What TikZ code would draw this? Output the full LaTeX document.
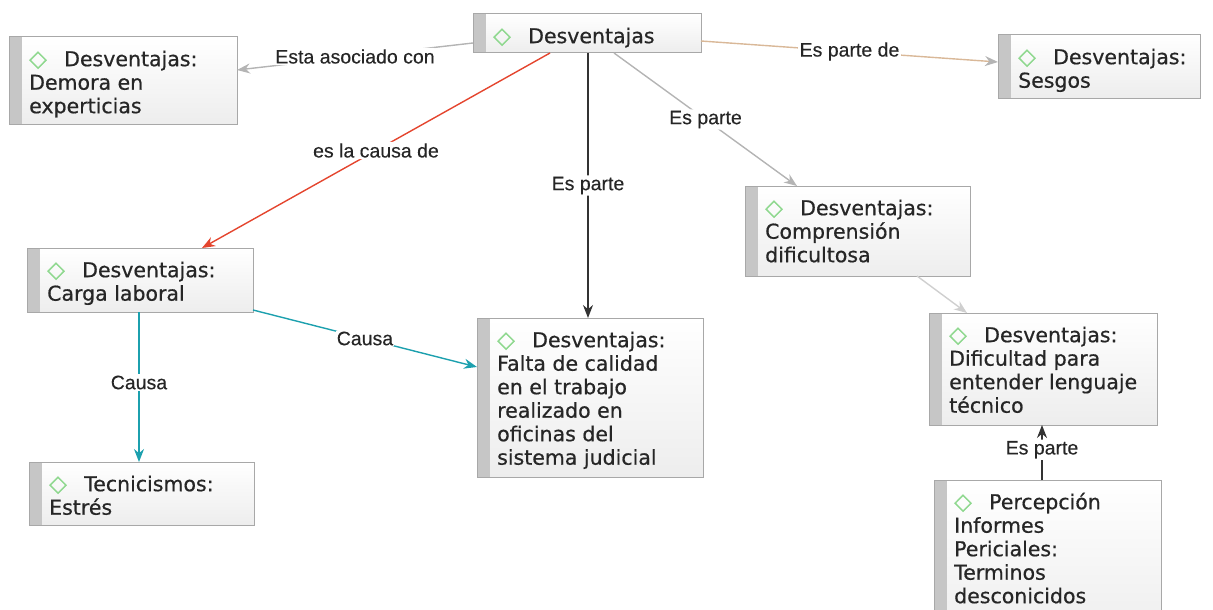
\documentclass[tikz,border=0pt]{standalone}
\usepackage{fontspec}
\setmainfont{DejaVu Sans}[FakeBold=0.6]
\newfontfamily\lblfont{Liberation Sans}[FakeBold=0.3]
\usetikzlibrary{arrows.meta,calc}
\definecolor{txt}{HTML}{262626}
\definecolor{dgreen}{HTML}{8ED88E}
\definecolor{bordercol}{HTML}{A8A8A8}
\definecolor{barcol}{HTML}{C6C6C6}
\definecolor{redE}{HTML}{E4452E}
\definecolor{tealE}{HTML}{1CA0AE}
\definecolor{grayE}{HTML}{B4B4B4}
\definecolor{lgrayE}{HTML}{CFCFCF}
\definecolor{tanE}{HTML}{D9B898}
\definecolor{darkE}{HTML}{333333}
\begin{document}
\begin{tikzpicture}[x=1pt,y=-1pt,
  cbox/.style={draw=bordercol, line width=1pt, top color=white, bottom color=black!7,
    inner sep=0pt, outer sep=0pt, anchor=north west,
    path picture={\fill[barcol] (path picture bounding box.south west) rectangle ([xshift=13pt]path picture bounding box.north west);}},
  ctext/.style={anchor=north west, inner sep=0pt, align=left, text=txt,
    font={\fontsize{20.5}{23.5}\selectfont}},
  lbl/.style={fill=white, rounded corners=3pt, inner sep=1.5pt, text=black!85,
    font={\lblfont\fontsize{19.5}{22}\selectfont}},
  edge/.style={line width=1.4pt, -{Stealth[length=13pt,width=10pt]}}
]
\useasboundingbox (0,0) rectangle (1213,610);
\clip (0,0) rectangle (1213,610);
\newcommand\dia{\makebox[35pt][l]{\color{dgreen}\fontsize{23}{23}\selectfont◇}}
\newcommand\cb[6]{%
  \node[cbox, minimum width={#4-#2}, minimum height={#5-#3}] (#1) at (#2,#3) {};
  \node[ctext] (#1t) at (#2+20,#3+12) {\rule{0pt}{17pt}#6};}
\cb{d0}{473}{14}{701}{53}{\dia Desventajas}
\cb{demora}{9}{37}{237}{124}{\dia Desventajas:\\Demora en\\experticias}
\cb{sesgos}{998}{35}{1200}{98}{\dia Desventajas:\\Sesgos}
\cb{carga}{27}{248}{253}{312}{\dia Desventajas:\\Carga laboral}
\cb{falta}{477}{318}{703}{477}{\dia Desventajas:\\Falta de calidad\\en el trabajo\\realizado en\\oficinas del\\sistema judicial}
\cb{comp}{745}{186}{970}{276}{\dia Desventajas:\\Comprensión\\dificultosa}
\cb{dif}{929}{313}{1157}{425}{\dia Desventajas:\\Dificultad para\\entender lenguaje\\técnico}
\cb{tec}{29}{462}{254}{525}{\dia Tecnicismos:\\Estrés}
\cb{perc}{934}{480}{1161}{640}{\dia Percepción\\Informes\\Periciales:\\Terminos\\desconicidos}

\draw[edge, grayE] ($(d0.west)+(0,9.5)$) -- node[lbl]{Esta asociado con} ($(demora.east)+(0,-10.5)$);
\draw[edge, tanE, -{Stealth[length=13pt,width=10pt,color=grayE]}] ($(d0.east)+(0,7.5)$) -- node[lbl]{Es parte de} ($(sesgos.west)+(0,-4.5)$);
\draw[edge, redE] ($(d0.south)+(-37,0)$) -- node[lbl]{es la causa de} ($(carga.north)+(62,0)$);
\draw[edge, darkE] ($(d0.south)+(1,0)$) -- node[lbl]{Es parte} ($(d0.south |- falta.north)+(1,0)$);
\draw[edge, grayE] ($(d0.south)+(27,0)$) -- node[lbl]{Es parte} ($(comp.north west)+(52,0)$);
\draw[edge, lgrayE] ($(comp.south east)+(-53,0)$) -- ($(dif.north west)+(38,0)$);
\draw[edge, tealE] ($(carga.south)+(-1,0)$) -- node[lbl, pos=0.47]{Causa} ($(carga.south |- tec.north)+(-1,0)$);
\draw[edge, tealE] ($(carga.south east)+(0,-2)$) -- node[lbl]{Causa} ($(falta.west)+(0,-30.5)$);
\draw[edge, darkE] ($(dif.south |- perc.north)+(-1,0)$) -- node[lbl, pos=0.55]{Es parte} ($(dif.south)+(-1,0)$);
\end{tikzpicture}
\end{document}
